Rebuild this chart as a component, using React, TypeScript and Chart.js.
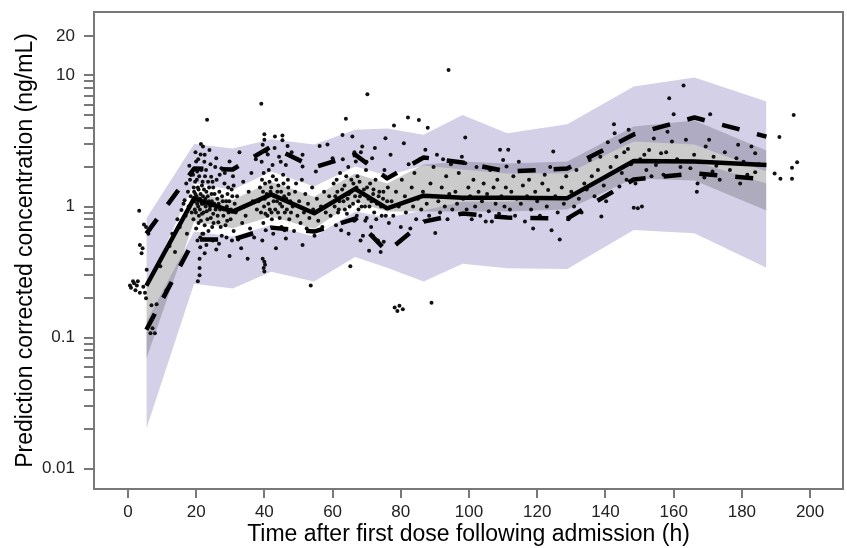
import React, { useEffect, useRef } from 'react';
import { Chart, registerables } from 'chart.js';

Chart.register(...registerables);

// ---- data -----------------------------------------------------------------
const binTimes = [5.4, 19.4, 30.7, 42, 54.6, 66.6, 76, 86.7, 98.1, 111.2, 128.8, 148.3, 166.1, 187.2];

// simulated 95th percentile CI
const sim95Upper = [0.81, 3.0, 2.77, 3.27, 2.97, 3.85, 3.94, 3.53, 4.99, 3.63, 4.25, 8.24, 9.66, 6.33];
const sim95Lower = [0.24, 1.51, 1.34, 1.85, 1.42, 2.02, 1.73, 2.06, 1.92, 1.79, 1.79, 3.13, 2.97, 1.85];
// simulated median CI
const sim50Upper = [0.25, 1.26, 1.125, 1.55, 1.19, 1.79, 1.5, 2.09, 2.21, 2.13, 2.21, 4.08, 4.53, 2.68];
const sim50Lower = [0.069, 0.768, 0.683, 0.839, 0.679, 1.09, 0.916, 0.916, 0.916, 0.916, 0.949, 1.64, 1.58, 0.932];
// simulated 5th percentile CI
const sim5Upper = [0.1325, 0.645, 0.59, 0.725, 0.59, 0.916, 0.824, 0.932, 1.09, 1.09, 1.17, 2.28, 2.21, 1.5];
const sim5Lower = [0.0202, 0.258, 0.237, 0.319, 0.268, 0.412, 0.342, 0.268, 0.367, 0.338, 0.334, 0.664, 0.625, 0.342];

// observed percentiles
const obsMedian = [0.249, 1.157, 0.916, 1.24, 0.889, 1.365, 0.97, 1.21, 1.17, 1.17, 1.16, 2.23, 2.21, 2.08];
const obs95 = [0.622, 1.95, 1.92, 2.87, 1.99, 2.49, 1.64, 2.37, 2.17, 1.85, 1.95, 3.55, 4.78, 3.42];
const obs5 = [0.115, 0.56, 0.56, 0.691, 0.645, 0.81, 0.453, 0.768, 0.884, 0.824, 0.81, 1.61, 1.79, 1.61];

// observations (time h, prediction corrected concentration ng/mL)
const observations: [number, number][] = [
  [0.6,0.25],[0.9,0.24],[1.5,0.27],[1.8,0.26],[2.2,0.23],[2.6,0.25],[2.9,0.27],[3.3,0.93],[3.5,0.22],[3.5,0.51],
  [4.3,0.48],[4.5,0.245],[4.7,0.73],[5,0.22],[5.3,0.7],[5.5,0.33],[5.3,0.2],[6.4,0.67],[6.9,0.177],[8.4,0.18],
  [6.6,0.108],[7.9,0.108],[7.2,0.118],[4,0.44],[6,0.62],
  [9.5,0.35],[11.3,0.23],[12.2,0.5],[13,0.62],[13.8,0.45],[14.5,0.8],[15.2,0.7],[15.7,0.94],[16.3,1.05],[16.6,1.12],
  [17.1,1.5],[17.6,1.3],[16.9,0.85],[17.8,1.0],[18.2,1.6],[18.6,1.75],[18.4,1.2],[17.3,0.62],[18.7,0.9],[18.0,2.05],
  [19.1,1.75],[19.3,1.4],[19.5,1.1],[19.6,0.95],[19.8,1.25],[20,2.21],[20,0.68],[20.2,1.6],[20.3,1.85],[20.4,0.55],
  [20.5,0.27],[20.6,1.0],[20.7,1.35],[20.8,0.85],[21,0.4],[21,0.34],[21,0.3],[21.1,1.15],[21.2,0.49],[21.3,2.5],
  [21.4,0.78],[21.5,1.9],[21.6,1.05],[21.7,1.45],[21.8,0.62],[22,2.87],[22,1.2],[22.2,0.9],[22.5,2.48],[22.5,0.44],
  [22.6,1.7],[22.8,1.0],[23,0.51],[23,1.3],[23.2,4.6],[23.3,0.8],[23.5,1.55],[23.7,1.1],[24,0.95],[24.2,2.1],
  [24.4,1.69],[24.5,1.25],[24.7,0.7],[25,1.4],[25,0.88],[25.3,1.05],[25.6,2.0],[25.9,2.34],[25.9,0.47],[26.2,1.15],
  [26.5,0.76],[26.8,1.3],[27,0.95],[27.4,1.96],[27.5,0.6],[27.8,1.1],[28,0.85],[28.3,1.5],[28.6,0.72],[29,1.0],
  [29.2,1.25],[29.5,0.9],[29.8,2.21],[29.8,0.42],[30.1,0.8],[30.4,1.35],[30.8,1.7],[31,0.65],[31.3,1.05],[31.6,0.9],
  [32,1.2],[32.3,0.56],[32.7,2.6],[33.2,0.48],[33.5,0.75],[33.8,1.55],[34,1.0],[34.5,0.85],[35.1,0.4],[35.4,1.3],
  [35.8,0.68],[36.2,1.8],[36.6,1.1],[37,0.58],[37.5,2.3],[37.8,0.95],
  [19.2,0.8],[19.4,1.3],[19.7,1.55],[19.9,0.9],[20.1,1.2],[20.3,1.05],[20.5,1.4],[20.7,0.75],[20.9,1.7],[21.1,0.95],
  [21.3,1.25],[21.5,1.1],[21.7,0.88],[21.9,1.55],[22.1,1.05],[22.3,1.35],[22.5,0.72],[22.7,1.15],[22.9,1.9],[23.1,0.92],
  [23.4,1.2],[23.6,0.65],[23.8,1.4],[24.1,1.0],[24.3,0.82],[24.6,1.1],[24.8,1.55],[25.1,0.75],[25.4,1.25],[25.7,0.95],
  [26,1.6],[26.3,0.85],[26.6,1.05],[26.9,1.75],[27.2,0.7],[27.6,1.2],[28.1,0.95],[28.4,1.8],[28.8,1.1],[29.1,0.78],
  [29.4,1.4],[29.7,1.1],[30.2,0.95],[30.6,1.2],[31,1.45],[19.8,2.6],[20.6,2.3],[21.4,3.0],[22.4,2.2],[23.9,2.7],
  [21.2,0.58],[22.1,0.62],[24.9,0.55],[26.7,0.52],[28.9,0.58],[30.5,0.55],
  [39.5,2.96],[40,3.23],[40,3.57],[40.5,2.63],[39.2,2.2],[39.8,1.8],[40.2,1.5],[39.6,1.3],[40.1,1.15],[39.9,1.0],
  [40.3,0.88],[39.7,0.75],[40.4,0.66],[39.5,0.4],[40,0.38],[39.8,0.34],[40,0.32],[40.2,0.36],[39.4,0.55],[39.1,6.1],
  [41,1.2],[41.3,1.9],[41.6,0.95],[42,1.4],[42.4,2.08],[42.2,0.8],[42.7,1.1],[43.1,3.42],[43.4,0.48],[43.5,1.6],
  [43.8,1.3],[44,0.9],[44.3,2.4],[44.6,1.05],[45,0.7],[45.3,3.48],[45.3,3.2],[45.5,1.75],[45.8,1.2],[46.3,2.08],
  [46.3,0.57],[46.6,0.95],[47,1.4],[47.3,0.8],[47.6,1.1],[48,2.6],[48.3,1.0],[48.7,0.65],[49,1.3],[49.3,1.5],[49.7,0.85],
  [38.3,1.1],[38.7,1.4],[39,0.9],[39.3,1.6],[40.7,1.25],[40.9,0.85],[41.2,1.05],[41.5,1.55],[41.8,1.3],[42.1,0.9],
  [42.5,1.7],[42.9,1.2],[43.2,0.95],[43.7,1.1],[44.1,1.45],[44.5,0.82],[44.9,1.3],[45.2,1.0],[45.6,1.5],[46,0.9],
  [46.4,1.15],[46.9,1.6],[47.2,1.25],[47.8,0.9],[41,2.5],[43,2.8],[44.8,2.2],[46.8,2.9],[42.6,0.62],[45.9,0.66],
  [50.2,1.1],[50.6,0.75],[51,1.6],[51.2,2.48],[51.2,2.02],[51.2,0.51],[51.6,0.9],[52,1.25],[52.4,0.68],[52.8,1.05],
  [53.2,0.82],[53.6,0.25],[54,1.4],[54.3,0.95],[54.7,0.6],[55.1,1.85],[55.4,1.15],[55.8,0.78],[56.2,2.9],[56.6,1.0],
  [57,0.7],[57.5,1.3],[58,0.9],[58.5,2.98],
  [59,1.2],[59.4,0.85],[60,2.34],[60.3,1.5],[60.6,1.0],[61,0.72],[61.4,1.3],[61.8,0.95],[62.2,1.8],[62.5,0.66],
  [62.9,3.52],[63.2,1.1],[63.5,1.45],[63.9,4.67],[64.2,0.88],[64.6,2.0],[64.8,1.25],[65.2,0.35],[65.5,1.6],[65.8,3.42],
  [66,1.05],[66.3,0.78],[66.8,2.21],[67,1.4],[67.3,1.7],[67.6,0.95],[68,1.2],[68.3,2.6],[68.7,2.87],[68.9,0.6],
  [69.2,1.35],[69.5,1.0],[69.8,1.9],[70,0.82],[70.2,7.2],[70.5,1.15],[70.7,0.46],[71,1.5],[71.3,0.7],[71.6,2.34],
  [71.9,1.25],[72.2,0.9],[72.6,1.6],[73,1.05],[73.3,0.55],[73.7,1.3],[74.1,0.45],[74.4,0.85],[74.8,1.15],[75,0.54],
  [75.2,1.9],[75.5,3.32],[75.8,0.98],[76.2,1.4],[76.5,0.75],
  [60.8,1.2],[61.2,1.6],[61.6,0.9],[62,1.1],[62.8,1.35],[63.6,0.95],[64,1.7],[64.4,1.15],[65,1.0],[65.4,1.3],
  [66.1,1.5],[66.6,1.2],[67.1,0.85],[67.5,1.1],[67.9,1.55],[68.5,1.0],[69,1.25],[69.6,0.78],[70.1,1.4],[70.8,1.0],
  [71.4,1.1],[72,1.35],[72.8,0.8],[73.5,1.2],[74.2,1.0],[74.9,1.3],[75.6,0.85],[76,1.1],[63,2.3],[66.4,2.6],
  [69.9,2.2],[72.4,2.8],[64.7,0.62],[68.2,0.55],[71.8,0.6],
  [77,2.48],[77.3,1.1],[77.8,0.85],[78,4.15],[78.2,0.17],[78.6,1.3],[79,0.16],[79.4,1.0],[79.6,0.175],[80,0.7],
  [80.3,1.6],[80.6,0.165],[80.9,3.04],[81.2,1.2],[81.5,0.9],[82.1,4.78],[82.3,2.1],[82.8,0.68],[83.2,1.4],[83.6,1.0],
  [84,1.8],[84.5,0.8],[85,1.15],[85.3,4.58],[85.6,2.3],[86,0.95],[86.5,1.3],[89,0.185],[87.2,2.71],[87.6,1.05],
  [87.9,4.0],[88.3,0.85],[88.7,1.5],[89.2,1.2],[89.6,2.0],[90.1,0.63],[90.6,2.48],[91,1.1],[91.5,0.9],[92,1.4],
  [92.4,2.3],[92.9,1.0],[93.3,1.7],[93.7,0.8],[94,11.0],[94.2,1.25],[94.7,2.1],[95.1,0.95],
  [96,1.3],[96.5,1.05],[97,1.8],[97.4,0.88],[97.9,2.4],[98.3,1.15],[98.9,3.37],[98.9,2.14],[99.3,0.95],[99.8,1.4],
  [100.3,1.2],[100.8,0.8],[101.3,1.6],[101.8,1.0],[102.2,2.0],[102.8,1.3],[103.3,0.85],[103.8,1.1],[104.3,1.5],[104.9,0.77],
  [105.3,1.25],[105.8,0.92],[106.2,1.9],[106.7,0.77],[107.2,1.4],[107.8,1.05],[108.3,1.6],[108.8,0.88],[109.1,2.71],[109.5,1.2],
  [110,2.27],[110.4,1.0],[110.8,1.4],[111,2.02],[111.5,2.71],[112,0.95],[112.4,1.3],[113,1.7],[113.5,0.85],[114,1.15],
  [114.6,2.2],[115.2,1.05],[115.8,1.45],[116.4,0.77],[117,1.2],[117.6,1.6],[118.2,0.95],[118.8,0.68],[119.4,1.3],[120,1.1],
  [120.8,0.85],[121.5,1.5],[122.2,1.75],[122.8,1.0],[123.2,1.34],[123.8,2.0],[124.2,0.66],[124.7,2.63],[125.3,1.2],[126,0.9],
  [126.6,0.56],[127.2,1.4],[127.8,1.05],[128.5,1.7],[129.2,0.8],
  [130,1.3],[130.8,1.0],[131.5,1.9],[132.2,1.15],[133,0.9],[133.8,1.5],[134.5,1.35],[135.4,2.27],[136,1.7],[136.8,1.2],
  [137.8,1.9],[138.5,2.4],[138.8,0.84],[139.5,1.45],[140.2,1.1],[140.7,3.1],[141.5,2.0],[142.5,4.25],[142.7,3.63],[143.2,2.4],
  [144.1,1.42],[144.8,1.8],[145.5,2.6],[146.2,1.6],[146.6,2.75],[146.8,3.85],[147.5,2.1],[148.3,0.98],[148.8,1.5],[149.5,0.97],
  [150.2,2.3],[150.7,1.0],[151.4,2.48],[152,1.9],[152.8,2.7],[153.5,1.7],[154.2,3.3],[154.8,2.08],[155.5,2.2],[156.3,2.55],
  [157,1.75],[157.8,2.6],[158.2,3.73],[158.7,6.7],[159.5,3.13],[160,5.06],
  [161,2.3],[162,2.0],[162.9,8.4],[163.6,3.23],[164.9,1.96],[166,2.48],[166.8,1.3],[167,1.5],[167.5,2.2],[169,1.67],
  [169.4,2.87],[170.4,3.23],[170.7,5.06],[171.4,1.85],[171.7,2.4],[172.5,2.05],[173.5,1.6],[175,2.6],[176.5,1.9],[178.4,2.34],
  [178.9,2.96],[179.5,1.5],[180.5,2.2],[181.6,1.75],[182.8,2.87],[183.9,2.55],[183.9,1.83],[185,2.1],[189.6,1.79],[191,3.4],
  [191.3,1.63],[194.7,1.63],[194.7,1.98],[195.2,5.0],[196.2,2.18],
];

const xTickValues = [0, 20, 40, 60, 80, 100, 120, 140, 160, 180, 200];
const yLabelledTicks = [0.01, 0.1, 1, 10, 20];
const yMinorMultipliers = [2, 3, 4, 5, 6, 7, 8, 9];
const yDecades = [0.01, 0.1, 1];

const xTitle = 'Time after first dose following admission (h)';
const yTitle = 'Prediction corrected concentration (ng/mL)';

// ---- styling ---------------------------------------------------------------
const PURPLE = 'rgba(110, 100, 180, 0.30)';
const GREY = 'rgba(105, 105, 105, 0.35)';
const FRAME = '#787878';

const framePlugin = {
  id: 'frame',
  afterDraw(chart: any) {
    const { ctx, chartArea } = chart;
    ctx.save();
    ctx.strokeStyle = FRAME;
    ctx.lineWidth = 2;
    ctx.strokeRect(chartArea.left, chartArea.top, chartArea.right - chartArea.left, chartArea.bottom - chartArea.top);
    ctx.restore();
  },
};

export default function App() {
  const ref = useRef<HTMLCanvasElement>(null);

  useEffect(() => {
    document.body.style.margin = '0';
    Chart.defaults.font.family = "'Liberation Sans', Arial, Helvetica, sans-serif";
    const pts = (arr: number[]) => binTimes.map((x, i) => ({ x, y: arr[i] }));

    const yTickValues: number[] = [];
    yDecades.forEach((d) => {
      yTickValues.push(d);
      yMinorMultipliers.forEach((m) => yTickValues.push(+(d * m).toPrecision(6)));
    });
    yTickValues.push(10, 20);

    const band = (data: any, fill: any, color: string, order: number) => ({
      data,
      fill,
      backgroundColor: color,
      borderColor: 'rgba(0,0,0,0)',
      borderWidth: 0,
      pointRadius: 0,
      order,
    });

    const chart = new Chart(ref.current as HTMLCanvasElement, {
      type: 'line',
      data: {
        datasets: [
          band(pts(sim95Upper), '+1', PURPLE, 10),
          band(pts(sim95Lower), false, 'rgba(0,0,0,0)', 10),
          band(pts(sim50Upper), '+1', GREY, 10),
          band(pts(sim50Lower), false, 'rgba(0,0,0,0)', 10),
          band(pts(sim5Upper), '+1', PURPLE, 10),
          band(pts(sim5Lower), false, 'rgba(0,0,0,0)', 10),
          {
            data: observations.map(([x, y]) => ({ x, y })),
            showLine: false,
            pointRadius: 2,
            pointBackgroundColor: '#111',
            pointBorderWidth: 0,
            pointBorderColor: 'rgba(0,0,0,0)',
            order: 3,
          } as any,
          {
            data: pts(obsMedian),
            borderColor: '#000',
            borderWidth: 4.5,
            borderJoinStyle: 'round',
            pointRadius: 0,
            fill: false,
            order: 1,
          } as any,
          {
            data: pts(obs95),
            borderColor: '#000',
            borderWidth: 4.5,
            borderDash: [18, 18],
            borderJoinStyle: 'round',
            pointRadius: 0,
            fill: false,
            order: 1,
          } as any,
          {
            data: pts(obs5),
            borderColor: '#000',
            borderWidth: 4.5,
            borderDash: [18, 18],
            borderJoinStyle: 'round',
            pointRadius: 0,
            fill: false,
            order: 1,
          } as any,
        ],
      },
      options: {
        animation: false,
        responsive: true,
        maintainAspectRatio: false,
        devicePixelRatio: 1,
        layout: { padding: { top: 12, right: 1, left: 0, bottom: 0 } },
        elements: { line: { tension: 0 } },
        plugins: { legend: { display: false }, tooltip: { enabled: false } },
        scales: {
          x: {
            type: 'linear',
            min: -9.95,
            max: 209.65,
            afterBuildTicks: (s: any) => {
              s.ticks = xTickValues.map((v) => ({ value: v }));
            },
            afterFit: (s: any) => {
              s.height = 59;
              s.paddingLeft = 0;
              s.paddingRight = 0;
            },
            grid: { display: true, drawOnChartArea: false, drawTicks: true, tickLength: 9, color: FRAME, lineWidth: 2 },
            border: { display: false },
            ticks: { font: { size: 17 }, color: '#222', padding: 4, maxRotation: 0, autoSkip: false },
            title: { display: true, text: xTitle, font: { size: 23 }, color: '#000', padding: { top: 0, bottom: 0 } },
          },
          y: {
            type: 'logarithmic',
            min: 0.00701,
            max: 30.5,
            afterBuildTicks: (s: any) => {
              s.ticks = yTickValues.map((v) => ({ value: v }));
            },
            afterFit: (s: any) => {
              s.width = 94;
              s.paddingTop = 0;
              s.paddingBottom = 0;
            },
            grid: { display: true, drawOnChartArea: false, drawTicks: true, tickLength: 10, color: FRAME, lineWidth: 2 },
            border: { display: false },
            ticks: {
              font: { size: 17 },
              color: '#222',
              padding: 9,
              autoSkip: false,
              callback: (v: any) => (yLabelledTicks.some((t) => Math.abs(t - v) < t * 1e-6) ? String(v) : ''),
            },
            title: { display: true, text: yTitle, font: { size: 23 }, color: '#000', padding: { top: 12, bottom: 0 } },
          },
        },
      } as any,
      plugins: [framePlugin],
    });
    return () => chart.destroy();
  }, []);

  return (
    <div style={{ width: 847, height: 548, position: 'relative' }}>
      <canvas ref={ref} />
    </div>
  );
}
